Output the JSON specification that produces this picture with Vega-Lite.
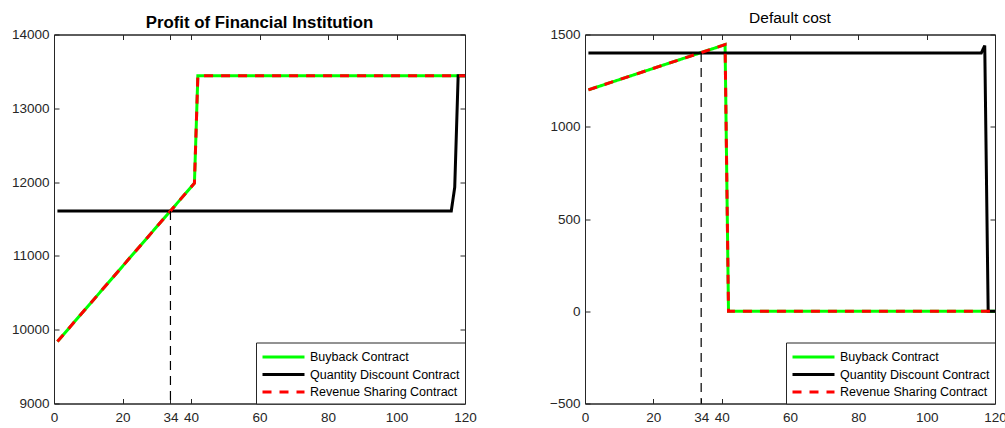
{
  "$schema": "https://vega.github.io/schema/vega-lite/v6.json",
  "padding": {"left": 10, "top": 9.5, "right": 0, "bottom": 0},
  "config": {
    "font": "Liberation Sans",
    "view": {"stroke": "#262626", "strokeWidth": 1},
    "axis": {"domainColor": "#262626", "tickColor": "#262626", "labelColor": "#262626", "labelFontSize": 13.5, "tickSize": -5, "grid": false, "title": null, "domainWidth": 1, "labelFlush": false, "format": "d"},
    "axisX": {"labelPadding": 12},
    "axisY": {"labelPadding": 10},
    "legend": {"orient": "bottom-right", "offset": 0, "title": null, "strokeColor": "#262626", "fillColor": "white", "padding": 5, "symbolType": "M-1,0H4.25", "symbolStrokeWidth": 3, "symbolSize": 256, "symbolOffset": 0, "labelFontSize": 12.5, "labelColor": "#000000", "labelOffset": 30, "labelLimit": 400, "cornerRadius": 0, "rowPadding": 1.5},
    "concat": {"spacing": 72}
  },
  "datasets": {
    "left": [
      {"x": 1, "y": 9840, "series": "Buyback Contract"},
      {"x": 41, "y": 11985, "series": "Buyback Contract"},
      {"x": 42, "y": 13440, "series": "Buyback Contract"},
      {"x": 120, "y": 13440, "series": "Buyback Contract"},
      {"x": 1, "y": 11610, "series": "Quantity Discount Contract"},
      {"x": 116, "y": 11610, "series": "Quantity Discount Contract"},
      {"x": 117, "y": 11930, "series": "Quantity Discount Contract"},
      {"x": 118, "y": 13440, "series": "Quantity Discount Contract"},
      {"x": 120, "y": 13440, "series": "Quantity Discount Contract"},
      {"x": 1, "y": 9840, "series": "Revenue Sharing Contract"},
      {"x": 41, "y": 11985, "series": "Revenue Sharing Contract"},
      {"x": 42, "y": 13440, "series": "Revenue Sharing Contract"},
      {"x": 120, "y": 13440, "series": "Revenue Sharing Contract"}
    ],
    "leftRule": [{"x": 34, "y": 11610, "y2": 9000}],
    "right": [
      {"x": 1, "y": 1200, "series": "Buyback Contract"},
      {"x": 41, "y": 1445, "series": "Buyback Contract"},
      {"x": 42, "y": 0, "series": "Buyback Contract"},
      {"x": 120, "y": 0, "series": "Buyback Contract"},
      {"x": 1, "y": 1400, "series": "Quantity Discount Contract"},
      {"x": 116, "y": 1400, "series": "Quantity Discount Contract"},
      {"x": 117, "y": 1440, "series": "Quantity Discount Contract"},
      {"x": 118, "y": 0, "series": "Quantity Discount Contract"},
      {"x": 120, "y": 0, "series": "Quantity Discount Contract"},
      {"x": 1, "y": 1200, "series": "Revenue Sharing Contract"},
      {"x": 41, "y": 1445, "series": "Revenue Sharing Contract"},
      {"x": 42, "y": 0, "series": "Revenue Sharing Contract"},
      {"x": 120, "y": 0, "series": "Revenue Sharing Contract"}
    ],
    "rightRule": [{"x": 34, "y": 1400, "y2": -500}]
  },
  "resolve": {"scale": {"color": "independent", "strokeDash": "independent"}},
  "hconcat": [
    {
      "width": 411,
      "height": 369,
      "title": {"text": "Profit of Financial Institution", "fontSize": 16.8, "fontWeight": "bold", "offset": -4, "color": "#000000"},
      "resolve": {"axis": {"x": "independent", "y": "independent"}},
      "layer": [
        {
          "data": {"name": "left"},
          "transform": [{"filter": "datum.series === 'Buyback Contract'"}],
          "mark": {"type": "line", "strokeWidth": 3},
          "encoding": {
            "x": {"field": "x", "type": "quantitative", "scale": {"domain": [0, 120], "nice": false, "zero": false}, "axis": {"values": [0, 20, 34, 40, 60, 80, 100, 120]}},
            "y": {"field": "y", "type": "quantitative", "scale": {"domain": [9000, 14000], "nice": false, "zero": false}, "axis": {"values": [9000, 10000, 11000, 12000, 13000, 14000]}},
            "color": {"field": "series", "type": "nominal", "scale": {"domain": ["Buyback Contract", "Quantity Discount Contract", "Revenue Sharing Contract"], "range": ["#00ff00", "#000000", "#ff0000"]}},
            "strokeDash": {"field": "series", "type": "nominal", "scale": {"domain": ["Buyback Contract", "Quantity Discount Contract", "Revenue Sharing Contract"], "range": [[1, 0], [1, 0], [9, 8]]}}
          }
        },
        {
          "data": {"name": "left"},
          "transform": [{"filter": "datum.series === 'Quantity Discount Contract'"}],
          "mark": {"type": "line", "strokeWidth": 3},
          "encoding": {
            "x": {"field": "x", "type": "quantitative", "axis": null},
            "y": {"field": "y", "type": "quantitative", "axis": null},
            "color": {"field": "series", "type": "nominal"},
            "strokeDash": {"field": "series", "type": "nominal"}
          }
        },
        {
          "data": {"name": "left"},
          "transform": [{"filter": "datum.series === 'Revenue Sharing Contract'"}],
          "mark": {"type": "line", "strokeWidth": 3},
          "encoding": {
            "x": {"field": "x", "type": "quantitative", "axis": null},
            "y": {"field": "y", "type": "quantitative", "axis": null},
            "color": {"field": "series", "type": "nominal"},
            "strokeDash": {"field": "series", "type": "nominal"}
          }
        },
        {
          "data": {"name": "leftRule"},
          "mark": {"type": "rule", "color": "#000000", "strokeWidth": 1.2, "strokeDash": [9, 6]},
          "encoding": {
            "x": {"field": "x", "type": "quantitative", "axis": {"orient": "top", "labels": false, "values": [0, 20, 34, 40, 60, 80, 100, 120]}},
            "y": {"field": "y", "type": "quantitative", "axis": {"orient": "right", "labels": false, "values": [9000, 10000, 11000, 12000, 13000, 14000]}},
            "y2": {"field": "y2"}
          }
        }
      ]
    },
    {
      "width": 410,
      "height": 369,
      "title": {"text": "Default cost", "fontSize": 15.5, "fontWeight": "normal", "offset": 1.5, "color": "#000000"},
      "resolve": {"axis": {"x": "independent", "y": "independent"}},
      "layer": [
        {
          "data": {"name": "right"},
          "transform": [{"filter": "datum.series === 'Buyback Contract'"}],
          "mark": {"type": "line", "strokeWidth": 3},
          "encoding": {
            "x": {"field": "x", "type": "quantitative", "scale": {"domain": [0, 120], "nice": false, "zero": false}, "axis": {"values": [0, 20, 34, 40, 60, 80, 100, 120]}},
            "y": {"field": "y", "type": "quantitative", "scale": {"domain": [-500, 1500], "nice": false, "zero": false}, "axis": {"values": [-500, 0, 500, 1000, 1500]}},
            "color": {"field": "series", "type": "nominal", "scale": {"domain": ["Buyback Contract", "Quantity Discount Contract", "Revenue Sharing Contract"], "range": ["#00ff00", "#000000", "#ff0000"]}},
            "strokeDash": {"field": "series", "type": "nominal", "scale": {"domain": ["Buyback Contract", "Quantity Discount Contract", "Revenue Sharing Contract"], "range": [[1, 0], [1, 0], [9, 8]]}}
          }
        },
        {
          "data": {"name": "right"},
          "transform": [{"filter": "datum.series === 'Quantity Discount Contract'"}],
          "mark": {"type": "line", "strokeWidth": 3},
          "encoding": {
            "x": {"field": "x", "type": "quantitative", "axis": null},
            "y": {"field": "y", "type": "quantitative", "axis": null},
            "color": {"field": "series", "type": "nominal"},
            "strokeDash": {"field": "series", "type": "nominal"}
          }
        },
        {
          "data": {"name": "right"},
          "transform": [{"filter": "datum.series === 'Revenue Sharing Contract'"}],
          "mark": {"type": "line", "strokeWidth": 3},
          "encoding": {
            "x": {"field": "x", "type": "quantitative", "axis": null},
            "y": {"field": "y", "type": "quantitative", "axis": null},
            "color": {"field": "series", "type": "nominal"},
            "strokeDash": {"field": "series", "type": "nominal"}
          }
        },
        {
          "data": {"name": "rightRule"},
          "mark": {"type": "rule", "color": "#000000", "strokeWidth": 1.2, "strokeDash": [9, 6]},
          "encoding": {
            "x": {"field": "x", "type": "quantitative", "axis": {"orient": "top", "labels": false, "values": [0, 20, 34, 40, 60, 80, 100, 120]}},
            "y": {"field": "y", "type": "quantitative", "axis": {"orient": "right", "labels": false, "values": [-500, 0, 500, 1000, 1500]}},
            "y2": {"field": "y2"}
          }
        }
      ]
    }
  ]
}
